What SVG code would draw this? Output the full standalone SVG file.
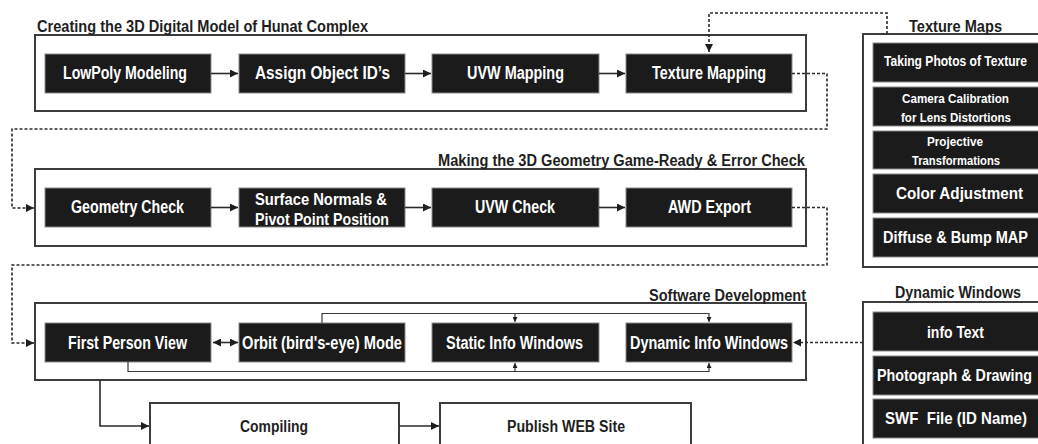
<svg xmlns="http://www.w3.org/2000/svg" width="1038" height="444" viewBox="0 0 1038 444">
<defs>
<style>
text{font-family:"Liberation Sans",Arial,sans-serif;font-weight:bold;white-space:pre}
.w{fill:#ffffff}
.k{fill:#1e1e1e}
.box{fill:#1b1b1b;stroke:#8a8a8a;stroke-width:1}
.frame{fill:none;stroke:#3c3c3c;stroke-width:2}
.wbox{fill:#ffffff;stroke:#3c3c3c;stroke-width:2}
.ln{fill:none;stroke:#2a2a2a;stroke-width:1.6}
.thin{fill:none;stroke:#3a3a3a;stroke-width:1.2}
.dash{fill:none;stroke:#2a2a2a;stroke-width:1.6;stroke-dasharray:3 2}
</style>
<marker id="ah" viewBox="0 0 10 10" refX="10" refY="5" markerWidth="9" markerHeight="8" markerUnits="userSpaceOnUse" orient="auto-start-reverse"><path d="M0,0 L10,5 L0,10 z" fill="#1e1e1e"/></marker>
<marker id="sm" viewBox="0 0 10 10" refX="10" refY="5" markerWidth="6" markerHeight="5" markerUnits="userSpaceOnUse" orient="auto"><path d="M0,0 L10,5 L0,10 z" fill="#1e1e1e"/></marker>
</defs>
<rect width="1038" height="444" fill="#ffffff"/>

<g id="section-model">
<rect class="frame" x="35" y="35" width="771" height="76"/>
<text class="k" x="37" y="32" font-size="16" textLength="331" lengthAdjust="spacingAndGlyphs">Creating the 3D Digital Model of Hunat Complex</text>
</g>
<g id="node-lowpoly"><rect class="box" x="45" y="54" width="166" height="39"/><text class="w" x="63" y="79" font-size="18" textLength="124" lengthAdjust="spacingAndGlyphs">LowPoly Modeling</text></g>
<g id="node-assign"><rect class="box" x="239" y="54" width="166" height="39"/><text class="w" x="255" y="79" font-size="18" textLength="135" lengthAdjust="spacingAndGlyphs">Assign Object ID’s</text></g>
<g id="node-uvwmap"><rect class="box" x="432" y="54" width="167" height="39"/><text class="w" x="467" y="79" font-size="18" textLength="97" lengthAdjust="spacingAndGlyphs">UVW Mapping</text></g>
<g id="node-texmap"><rect class="box" x="626" y="54" width="166" height="39"/><text class="w" x="652" y="79" font-size="18" textLength="114" lengthAdjust="spacingAndGlyphs">Texture Mapping</text></g>

<g id="section-geometry">
<rect class="frame" x="35" y="169" width="771" height="77"/>
<text class="k" x="438" y="166" font-size="16" textLength="367" lengthAdjust="spacingAndGlyphs">Making the 3D Geometry Game-Ready &amp; Error Check</text>
</g>
<g id="node-geocheck"><rect class="box" x="45" y="188" width="166" height="39"/><text class="w" x="71" y="213" font-size="18" textLength="113" lengthAdjust="spacingAndGlyphs">Geometry Check</text></g>
<g id="node-normals"><rect class="box" x="239" y="188" width="166" height="39"/><text class="w" x="255" y="205" font-size="17" textLength="132" lengthAdjust="spacingAndGlyphs">Surface Normals &amp;</text><text class="w" x="255" y="225" font-size="17" textLength="134" lengthAdjust="spacingAndGlyphs">Pivot Point Position</text></g>
<g id="node-uvwcheck"><rect class="box" x="432" y="188" width="167" height="39"/><text class="w" x="475" y="213" font-size="18" textLength="80" lengthAdjust="spacingAndGlyphs">UVW Check</text></g>
<g id="node-awd"><rect class="box" x="626" y="188" width="166" height="39"/><text class="w" x="668" y="213" font-size="18" textLength="83" lengthAdjust="spacingAndGlyphs">AWD Export</text></g>

<g id="section-software">
<rect class="frame" x="35" y="303" width="771" height="77"/>
<text class="k" x="649" y="301" font-size="16" textLength="157" lengthAdjust="spacingAndGlyphs">Software Development</text>
</g>
<g id="node-fpv"><rect class="box" x="45" y="323" width="166" height="39"/><text class="w" x="68" y="349" font-size="18" textLength="119" lengthAdjust="spacingAndGlyphs">First Person View</text></g>
<g id="node-orbit"><rect class="box" x="239" y="323" width="166" height="39"/><text class="w" x="242" y="349" font-size="18" textLength="160" lengthAdjust="spacingAndGlyphs">Orbit (bird's-eye) Mode</text></g>
<g id="node-static"><rect class="box" x="432" y="323" width="167" height="39"/><text class="w" x="446" y="349" font-size="18" textLength="137" lengthAdjust="spacingAndGlyphs">Static Info Windows</text></g>
<g id="node-dynamic"><rect class="box" x="626" y="323" width="166" height="39"/><text class="w" x="630" y="349" font-size="18" textLength="158" lengthAdjust="spacingAndGlyphs">Dynamic Info Windows</text></g>

<g id="node-compiling"><rect class="wbox" x="150" y="403" width="249" height="60"/><text class="k" x="240" y="432" font-size="16" textLength="68" lengthAdjust="spacingAndGlyphs">Compiling</text></g>
<g id="node-publish"><rect class="wbox" x="440" y="403" width="251" height="60"/><text class="k" x="507" y="432" font-size="16" textLength="118" lengthAdjust="spacingAndGlyphs">Publish WEB Site</text></g>

<g id="panel-texture-maps">
<rect class="frame" x="863" y="34" width="200" height="233"/>
<text class="k" x="909" y="32" font-size="16" textLength="93" lengthAdjust="spacingAndGlyphs">Texture Maps</text>
<rect class="box" x="873" y="43" width="180" height="39"/>
<text class="w" transform="translate(884,66) scale(0.8,1)" font-size="14" textLength="178.75" lengthAdjust="spacingAndGlyphs">Taking Photos of Texture</text>
<rect class="box" x="873" y="87" width="180" height="39"/>
<text class="w" transform="translate(902,103) scale(0.8,1)" font-size="13" textLength="133.75" lengthAdjust="spacingAndGlyphs">Camera Calibration</text>
<text class="w" transform="translate(901,122) scale(0.8,1)" font-size="13" textLength="137.5" lengthAdjust="spacingAndGlyphs">for Lens Distortions</text>
<rect class="box" x="873" y="131" width="180" height="38"/>
<text class="w" transform="translate(927,146) scale(0.8,1)" font-size="13" textLength="70" lengthAdjust="spacingAndGlyphs">Projective</text>
<text class="w" transform="translate(912,165) scale(0.8,1)" font-size="13" textLength="110" lengthAdjust="spacingAndGlyphs">Transformations</text>
<rect class="box" x="873" y="174" width="180" height="39"/>
<text class="w" transform="translate(896,199) scale(0.8,1)" font-size="17" textLength="158.75" lengthAdjust="spacingAndGlyphs">Color Adjustment</text>
<rect class="box" x="873" y="218" width="180" height="39"/>
<text class="w" transform="translate(883,243) scale(0.8,1)" font-size="17" textLength="181.25" lengthAdjust="spacingAndGlyphs">Diffuse &amp; Bump MAP</text>
</g>

<g id="panel-dynamic-windows">
<rect class="frame" x="863" y="302" width="200" height="160"/>
<text class="k" x="895" y="298" font-size="16" textLength="126" lengthAdjust="spacingAndGlyphs">Dynamic Windows</text>
<rect class="box" x="873" y="312" width="180" height="39"/>
<text class="w" transform="translate(927,338) scale(0.8,1)" font-size="16" textLength="71.25" lengthAdjust="spacingAndGlyphs">info Text</text>
<rect class="box" x="873" y="356" width="180" height="39"/>
<text class="w" transform="translate(877,381) scale(0.8,1)" font-size="16" textLength="193.75" lengthAdjust="spacingAndGlyphs">Photograph &amp; Drawing</text>
<rect class="box" x="873" y="399" width="180" height="39"/>
<text class="w" transform="translate(885,424) scale(0.8,1)" font-size="16" textLength="177.5" lengthAdjust="spacingAndGlyphs">SWF  File (ID Name)</text>
</g>

<g id="connectors">
<path class="ln" d="M211,73.5 H238" marker-end="url(#ah)"/>
<path class="ln" d="M405,73.5 H431" marker-end="url(#ah)"/>
<path class="ln" d="M599,73.5 H625" marker-end="url(#ah)"/>
<path class="ln" d="M211,207.5 H238" marker-end="url(#ah)"/>
<path class="ln" d="M405,207.5 H431" marker-end="url(#ah)"/>
<path class="ln" d="M599,207.5 H625" marker-end="url(#ah)"/>
<path class="ln" d="M213,342.5 H238" marker-start="url(#ah)" marker-end="url(#ah)"/>
<path class="dash" d="M887,34 V13 H709 V52" marker-end="url(#ah)"/>
<path class="dash" d="M792,73.5 H827 V129 H12 V208 H34" marker-end="url(#ah)"/>
<path class="dash" d="M792,207.5 H827 V265 H12 V343 H34" marker-end="url(#ah)"/>
<path class="dash" d="M863,342.5 H793" marker-end="url(#ah)"/>
<path class="thin" d="M322,323 V313.5 H709 V322" marker-end="url(#sm)"/>
<path class="thin" d="M515,313.5 V322" marker-end="url(#sm)"/>
<path class="thin" d="M128,362 V371.5 H709 V363" marker-end="url(#sm)"/>
<path class="thin" d="M515,371.5 V363" marker-end="url(#sm)"/>
<path class="ln" d="M100,380 V426 H149" marker-end="url(#ah)"/>
<path class="ln" d="M399,426 H439" marker-end="url(#ah)"/>
</g>
</svg>
